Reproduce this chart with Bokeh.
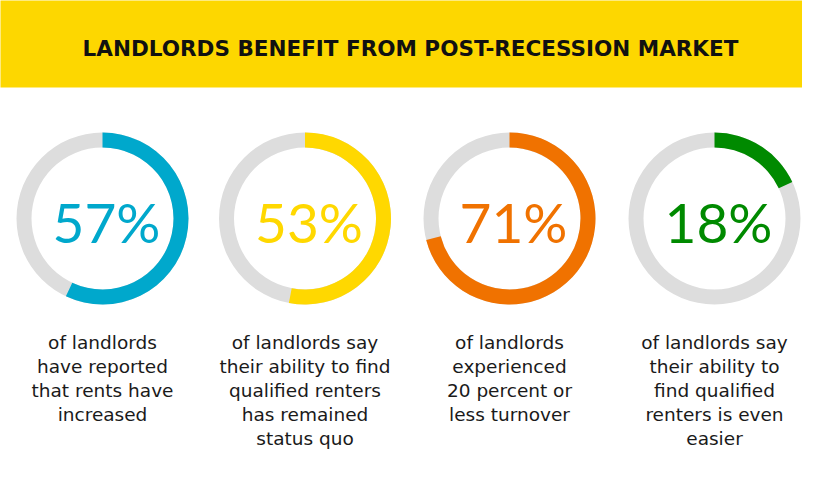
from bokeh.plotting import figure
from bokeh.models import Range1d
from bokeh.core.properties import value
from bokeh.embed import file_html
from bokeh.resources import INLINE
import math

# ---- data ----
title = "LANDLORDS BENEFIT FROM POST-RECESSION MARKET"
percents = [57, 53, 71, 18]
labels = ["57%", "53%", "71%", "18%"]
descriptions = [
    ["of landlords", "have reported", "that rents have", "increased"],
    ["of landlords say", "their ability to find", "qualified renters", "has remained", "status quo"],
    ["of landlords", "experienced", "20 percent or", "less turnover"],
    ["of landlords say", "their ability to", "find qualified", "renters is even", "easier"],
]
colors = ["#00A8CC", "#FFD800", "#F07200", "#008A00"]

# ---- layout (reference pixel coords, y measured from top) ----
W, H = 802, 484
centers_x = [102, 304.5, 509, 714]
center_y = 218
R_OUT, R_IN = 86, 71
TXT_Y0, TXT_DY = 342, 24

def Y(y):
    return H - y

p = figure(width=W, height=H, output_backend="svg", toolbar_location=None,
           x_range=Range1d(0, W), y_range=Range1d(0, H), min_border=0)
p.axis.visible = False
p.grid.visible = False
p.outline_line_color = None
p.background_fill_color = "white"
p.border_fill_color = "white"

# banner
p.quad(left=-10, right=W + 10, top=Y(-10), bottom=Y(87), fill_color="#FDD700", line_color=None)
p.text(x=[410], y=[Y(48)], text=[title], text_align="center", text_baseline="middle",
       text_font=value("DejaVu Sans"), text_font_style="bold", text_font_size="21.5px",
       text_color="#111111")

cy = [Y(center_y)] * len(percents)
# grey tracks
p.annular_wedge(x=centers_x, y=cy, inner_radius=R_IN, outer_radius=R_OUT,
                start_angle=0, end_angle=2 * math.pi, fill_color="#DDDDDD", line_color=None)
# coloured arcs (clockwise from top)
starts = [math.pi / 2] * len(percents)
ends = [math.pi / 2 - v / 100 * 2 * math.pi for v in percents]
p.annular_wedge(x=centers_x, y=cy, inner_radius=R_IN, outer_radius=R_OUT,
                start_angle=starts, end_angle=ends, direction="clock",
                fill_color=colors, line_color=None)
# big percentages
p.text(x=[c + 4 for c in centers_x], y=[Y(221)] * 4, text=labels, text_align="center",
       text_baseline="middle", text_font=value("Lato"), text_font_size="55px",
       text_color=colors)

# descriptions
xs, ys, ts = [], [], []
for cx, lines in zip(centers_x, descriptions):
    for i, line in enumerate(lines):
        xs.append(cx)
        ys.append(Y(TXT_Y0 + i * TXT_DY))
        ts.append(line)
p.text(x=xs, y=ys, text=ts, text_align="center", text_baseline="middle",
       text_font=value("DejaVu Sans"), text_font_size="18.5px", text_color="#1a1a1a")

open("out.html", "w").write(file_html(p, INLINE))
